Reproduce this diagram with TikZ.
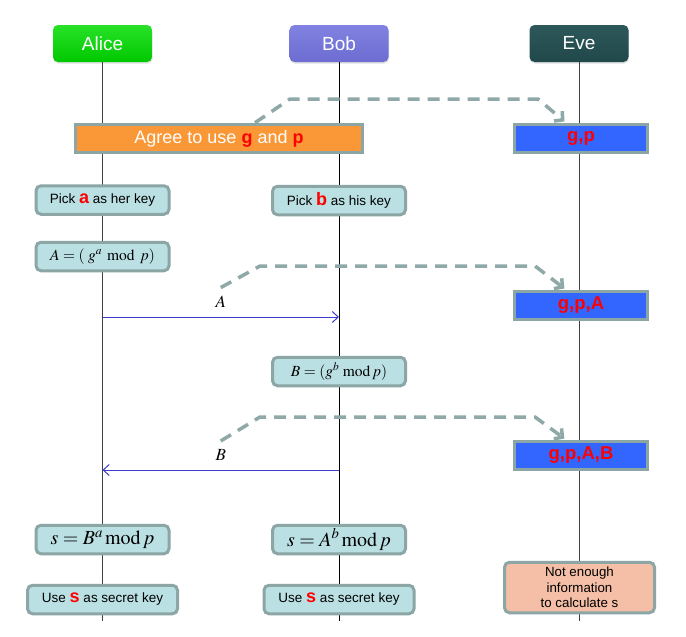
\documentclass[tikz,border=0pt]{standalone}
\usepackage{mathptmx}
\usepackage[no-math]{fontspec}
\setmainfont{Liberation Sans}
\usetikzlibrary{arrows.meta,shadows}
\definecolor{edgegray}{RGB}{140,165,165}
\definecolor{tapgray}{RGB}{143,168,168}
\definecolor{notefill}{RGB}{187,224,227}
\definecolor{agreefill}{RGB}{250,152,55}
\definecolor{evefill}{RGB}{51,102,255}
\definecolor{warnfill}{RGB}{244,191,166}
\definecolor{msgblue}{RGB}{60,60,205}
\definecolor{keyred}{RGB}{255,0,0}
\definecolor{alicetop}{RGB}{40,225,40}
\definecolor{alicebot}{RGB}{0,200,0}
\definecolor{bobtop}{RGB}{130,130,225}
\definecolor{bobbot}{RGB}{108,108,210}
\definecolor{evetop}{RGB}{45,88,90}
\definecolor{evebot}{RGB}{33,72,74}
\newcommand\redkey[1]{{\fontsize{18}{18}\selectfont\bfseries\color{keyred}#1}}
\begin{document}
\begin{tikzpicture}[x=1pt,y=-1pt,
  head/.style={rounded corners=5pt,minimum width=99pt,minimum height=37pt,inner sep=0pt,
    text=white,font=\fontsize{19}{19}\selectfont,
    drop shadow={opacity=0.25,shadow xshift=0.5pt,shadow yshift=-1.5pt}},
  life/.style={line width=1pt,black!75},
  note/.style={draw=edgegray,line width=3pt,fill=notefill,rounded corners=5pt,
    minimum width=133pt,minimum height=28.5pt,inner sep=0pt,font=\fontsize{13.5}{15}\selectfont},
  usebox/.style={note,minimum width=150pt},
  sbox/.style={note,font=\fontsize{20}{20}\selectfont},
  defbox/.style={note,font=\fontsize{15.5}{15.5}\selectfont},
  evebox/.style={draw=edgegray,line width=3pt,fill=evefill,minimum width=133pt,
    minimum height=28.5pt,inner sep=0pt,text=keyred,font=\fontsize{18.5}{18.5}\selectfont\bfseries},
  msg/.style={line width=1pt,msgblue,-{Straight Barb[length=6pt,width=11pt]}},
  lbl/.style={inner sep=0pt,text=black,font=\fontsize{17}{17}\selectfont},
  tap/.style={line width=3.5pt,tapgray,dash pattern=on 12pt off 8pt,shorten >=2pt,
    -{Straight Barb[length=6pt,width=13pt]}}]
\path[fill=white] (0,0) rectangle (686,637);
% actors
\node[head,top color=alicetop,bottom color=alicebot] (alice) at (102.5,43.5) {Alice};
\node[head,top color=bobtop,bottom color=bobbot] (bob) at (339,43.5) {Bob};
\node[head,top color=evetop,bottom color=evebot] (eve) at (579,43.5) {Eve};
\coordinate (aliceend) at (alice |- 0,621);
\coordinate (bobend) at (bob |- 0,621);
\coordinate (eveend) at (eve |- 0,621);
\draw[life] (alice) -- (aliceend);
\draw[life,black] (bob) -- (bobend);
\draw[life] (eve) -- (eveend);
% public values
\node[draw=edgegray,line width=3pt,fill=agreefill,minimum width=287pt,minimum height=28.5pt,
  inner sep=0pt,text=white,font=\fontsize{18}{18}\selectfont] (agree) at (219,138.5)
  {Agree to use \textcolor{keyred}{\bfseries g} and \textcolor{keyred}{\bfseries p}};
\node[evebox] (gp) at (581,138.5) {g,p};
\draw[tap] ([xshift=36pt]agree.north) -- (290,99) -- (538,99) -- ([xshift=-15pt]gp.north);
% private keys
\node[note] (picka) at (alice |- 0,200) {Pick \redkey{a} as her key};
\node[note] (pickb) at (bob |- 0,200.5) {Pick \redkey{b} as his key};
\node[defbox] (adef) at (alice |- 0,256.5) {$A = (\;g^{a}\;\,\mathrm{mod}\;\, p)$};
% A goes to Bob
\coordinate (asend) at (alice |- 0,317);
\coordinate (arecv) at (bob |- 0,317);
\draw[msg] (asend) -- node[lbl,above=9pt] (labA) {$A$} (arecv);
\node[evebox] (gpa) at (581,305.5) {g,p,A};
\draw[tap] ([yshift=8pt]labA.north) -- (260,266) -- (535,266) -- ([xshift=-15pt]gpa.north);
\node[defbox] (bdef) at (bob |- 0,371.5) {$B = (g^{b}\;\mathrm{mod}\, p)$};
% B goes to Alice
\coordinate (bsend) at (bob |- 0,470);
\coordinate (brecv) at (alice |- 0,470);
\draw[msg] (bsend) -- node[lbl,above=9pt] (labB) {$B$} (brecv);
\node[evebox] (gpab) at (581,455.5) {g,p,A,B};
\draw[tap] ([yshift=8pt]labB.north) -- (260,417) -- (535,417) -- ([xshift=-15pt]gpab.north);
% shared secret
\node[sbox] (sa) at (alice |- 0,539.5) {$s = B^{a}\,\mathrm{mod}\,p$};
\node[sbox] (sb) at (bob |- 0,539.5) {$s = A^{b}\,\mathrm{mod}\,p$};
\node[usebox] (usea) at (alice |- 0,599.5) {Use \redkey{s} as secret key};
\node[usebox] (useb) at (bob |- 0,599.5) {Use \redkey{s} as secret key};
\node[note,fill=warnfill,minimum width=150pt,minimum height=50.5pt,align=center,
  font=\fontsize{13.3}{15.7}\selectfont] (noinfo) at (579.5,587.5)
  {Not enough\\information\\to calculate s};
\end{tikzpicture}
\end{document}
